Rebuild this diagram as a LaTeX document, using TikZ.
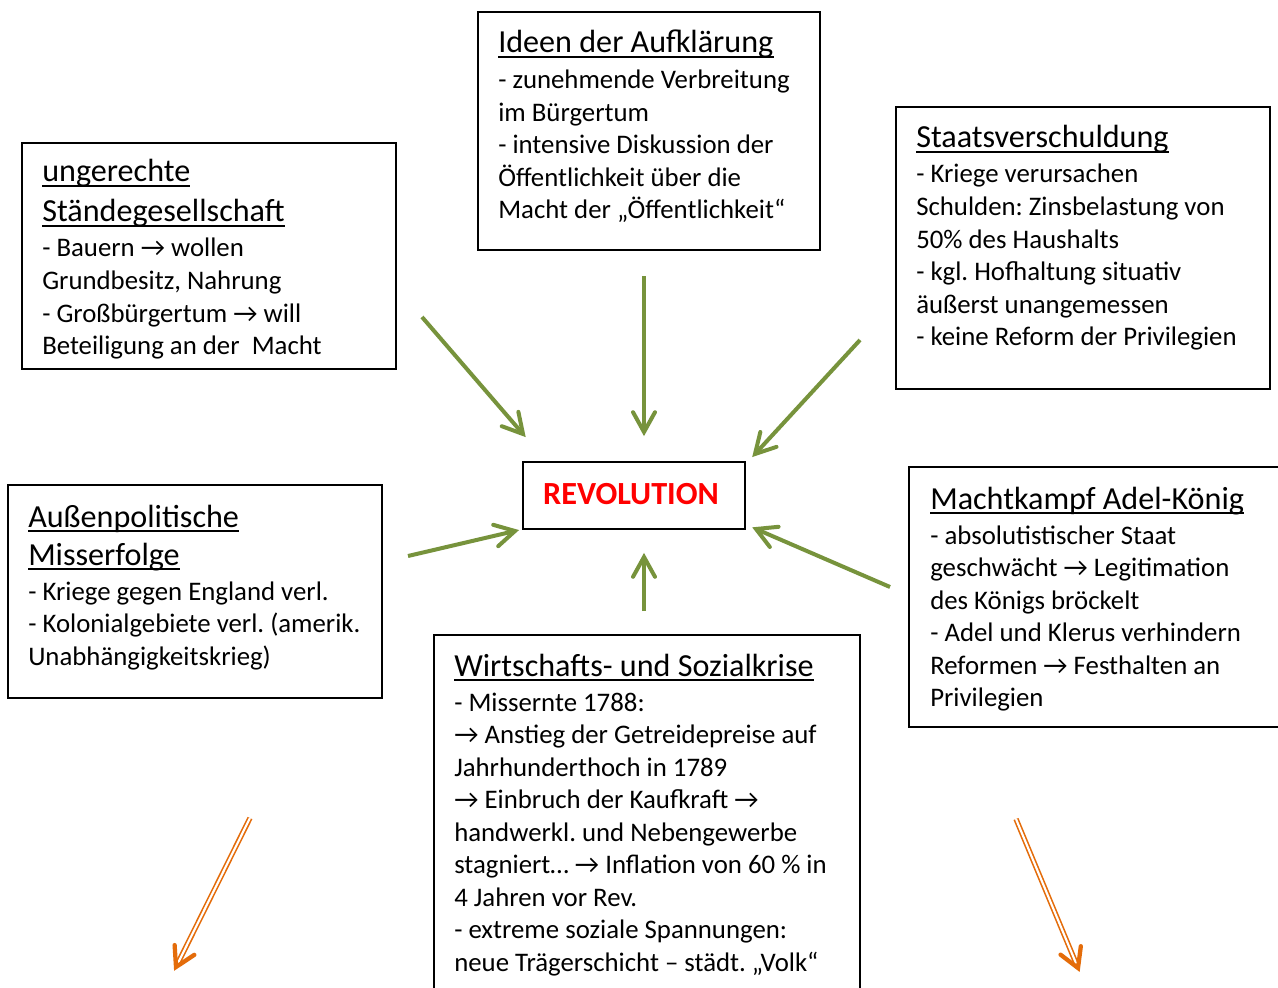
\documentclass[tikz,border=0pt]{standalone}
\usepackage{fontspec}
\setmainfont{Carlito}
\frenchspacing
\usetikzlibrary{calc,fit}
\definecolor{arrgreen}{HTML}{77933C}
\definecolor{arrorange}{HTML}{E46C0A}
\definecolor{revred}{HTML}{FF0000}
\tikzset{
  box/.style={draw=black, line width=1.1pt, inner sep=0pt, rectangle},
  body/.style={inner sep=0pt, anchor=base west, font=\fontsize{20.1}{24}\selectfont\frenchspacing},
  title/.style={inner sep=0pt, anchor=base west, font=\fontsize{24.1}{29}\selectfont\frenchspacing},
  ul/.style={line width=1.3pt},
  garrow/.style={draw=arrgreen, line width=3pt},
  ghead/.style={draw=arrgreen, line width=3pt, line cap=round, line join=miter},
  oline/.style={draw=arrorange, line width=1.2pt, double=white, double distance=1.6pt},
  ohead/.style={draw=arrorange, line width=3.2pt, line cap=round, line join=miter},
}
\newcommand\ultitle[3]{\node[title] (#1) at (#2) {#3};
  \draw[ul] ([yshift=-3pt]#1.base west) -- ([yshift=-3pt]#1.base east);}
\newcommand\bodylines[4]{\foreach \t [count=\i] in {#4}{\node[body] (#1\i) at (#2,{#3+32.5*(\i-1)}) {\t};}}
\newcommand\greenarrow[2]{\draw[garrow, shorten >=1pt] (#1) -- (#2);
  \draw[ghead] ($(#2)!17pt!29:(#1)$) -- (#2) -- ($(#2)!17pt!-29:(#1)$);}
\newcommand\orangearrow[2]{\draw[oline, shorten >=3pt] (#1) -- (#2);
  \draw[ohead] ($(#2)!16.5pt!30:(#1)$) -- (#2) -- ($(#2)!16.5pt!-30:(#1)$);}
\begin{document}
\begin{tikzpicture}[x=0.75pt,y=-0.75pt]
\clip (0,0) rectangle (1278,988);
\fill[white] (0,0) rectangle (1278,988);

% boxes
\node[box, fit={(478,12) (820,250)}] (ideenbox) {};
\node[box, fit={(22,143) (396,369)}] (standbox) {};
\node[box, fit={(896,107) (1270,389)}] (staatbox) {};
\node[box, fit={(523,462) (745,529)}] (revbox) {};
\node[box, fit={(8,485) (382,698)}] (aussenbox) {};
\node[box, fit={(909,467) (1300,727)}] (machtbox) {};
\node[box, fit={(434,635) (860,1010)}] (wirtbox) {};

% REVOLUTION
\node[inner sep=0pt, anchor=base, text=revred, font=\fontsize{24.2}{29}\selectfont\bfseries] (rev) at (631,504) {REVOLUTION};

% Ideen der Aufklaerung
\ultitle{ideent}{498,53}{Ideen der Aufklärung}
\bodylines{ideen}{498}{89}{- zunehmende Verbreitung, im Bürgertum, - intensive Diskussion der, Öffentlichkeit über die, Macht der „Öffentlichkeit“}

% ungerechte Staendegesellschaft
\ultitle{standta}{42,182}{ungerechte}
\ultitle{standtb}{42,222}{Ständegesellschaft}
\bodylines{stand}{42}{257}{- Bauern → wollen, {Grundbesitz, Nahrung}, - Großbürgertum → will, Beteiligung an der\ \ Macht}

% Staatsverschuldung
\ultitle{staatt}{916,148}{Staatsverschuldung}
\bodylines{staat}{916}{183}{- Kriege verursachen, Schulden: Zinsbelastung von, 50\% des Haushalts, - kgl. Hofhaltung situativ, äußerst unangemessen, - keine Reform der Privilegien}

% Aussenpolitische Misserfolge
\ultitle{aussenta}{28,527}{Außenpolitische}
\ultitle{aussentb}{28,565}{Misserfolge}
\bodylines{aussen}{28}{600}{- Kriege gegen England verl., - Kolonialgebiete verl. (amerik., Unabhängigkeitskrieg)}

% Machtkampf Adel-Koenig
\ultitle{machtt}{930,509}{Machtkampf Adel-König}
\bodylines{macht}{930}{544}{- absolutistischer Staat, geschwächt → Legitimation, des Königs bröckelt, - Adel und Klerus verhindern, Reformen → Festhalten an, Privilegien}

% Wirtschafts- und Sozialkrise
\ultitle{wirtt}{454,676}{Wirtschafts- und Sozialkrise}
\bodylines{wirt}{454}{711}{- Missernte 1788:, → Anstieg der Getreidepreise auf, Jahrhunderthoch in 1789, → Einbruch der Kaufkraft →, handwerkl. und Nebengewerbe, stagniert… → Inflation von 60 \% in, 4 Jahren vor Rev., - extreme soziale Spannungen:, neue Trägerschicht – städt. „Volk“}

% green arrows
\coordinate (g1s) at (422,317); \coordinate (g1e) at (523,434);
\coordinate (g2s) at (644,276); \coordinate (g2e) at (644,432);
\coordinate (g3s) at (860,340); \coordinate (g3e) at (755,454);
\coordinate (g4s) at (408,556); \coordinate (g4e) at (515,531);
\coordinate (g5s) at (890,587); \coordinate (g5e) at (756,529);
\coordinate (g6s) at (644,611); \coordinate (g6e) at (644,557);
\greenarrow{g1s}{g1e}
\greenarrow{g2s}{g2e}
\greenarrow{g3s}{g3e}
\greenarrow{g4s}{g4e}
\greenarrow{g5s}{g5e}
\greenarrow{g6s}{g6e}

% orange arrows
\coordinate (o1s) at (250,818); \coordinate (o1e) at (176,967);
\coordinate (o2s) at (1016,819); \coordinate (o2e) at (1078,968);
\orangearrow{o1s}{o1e}
\orangearrow{o2s}{o2e}
\end{tikzpicture}
\end{document}
